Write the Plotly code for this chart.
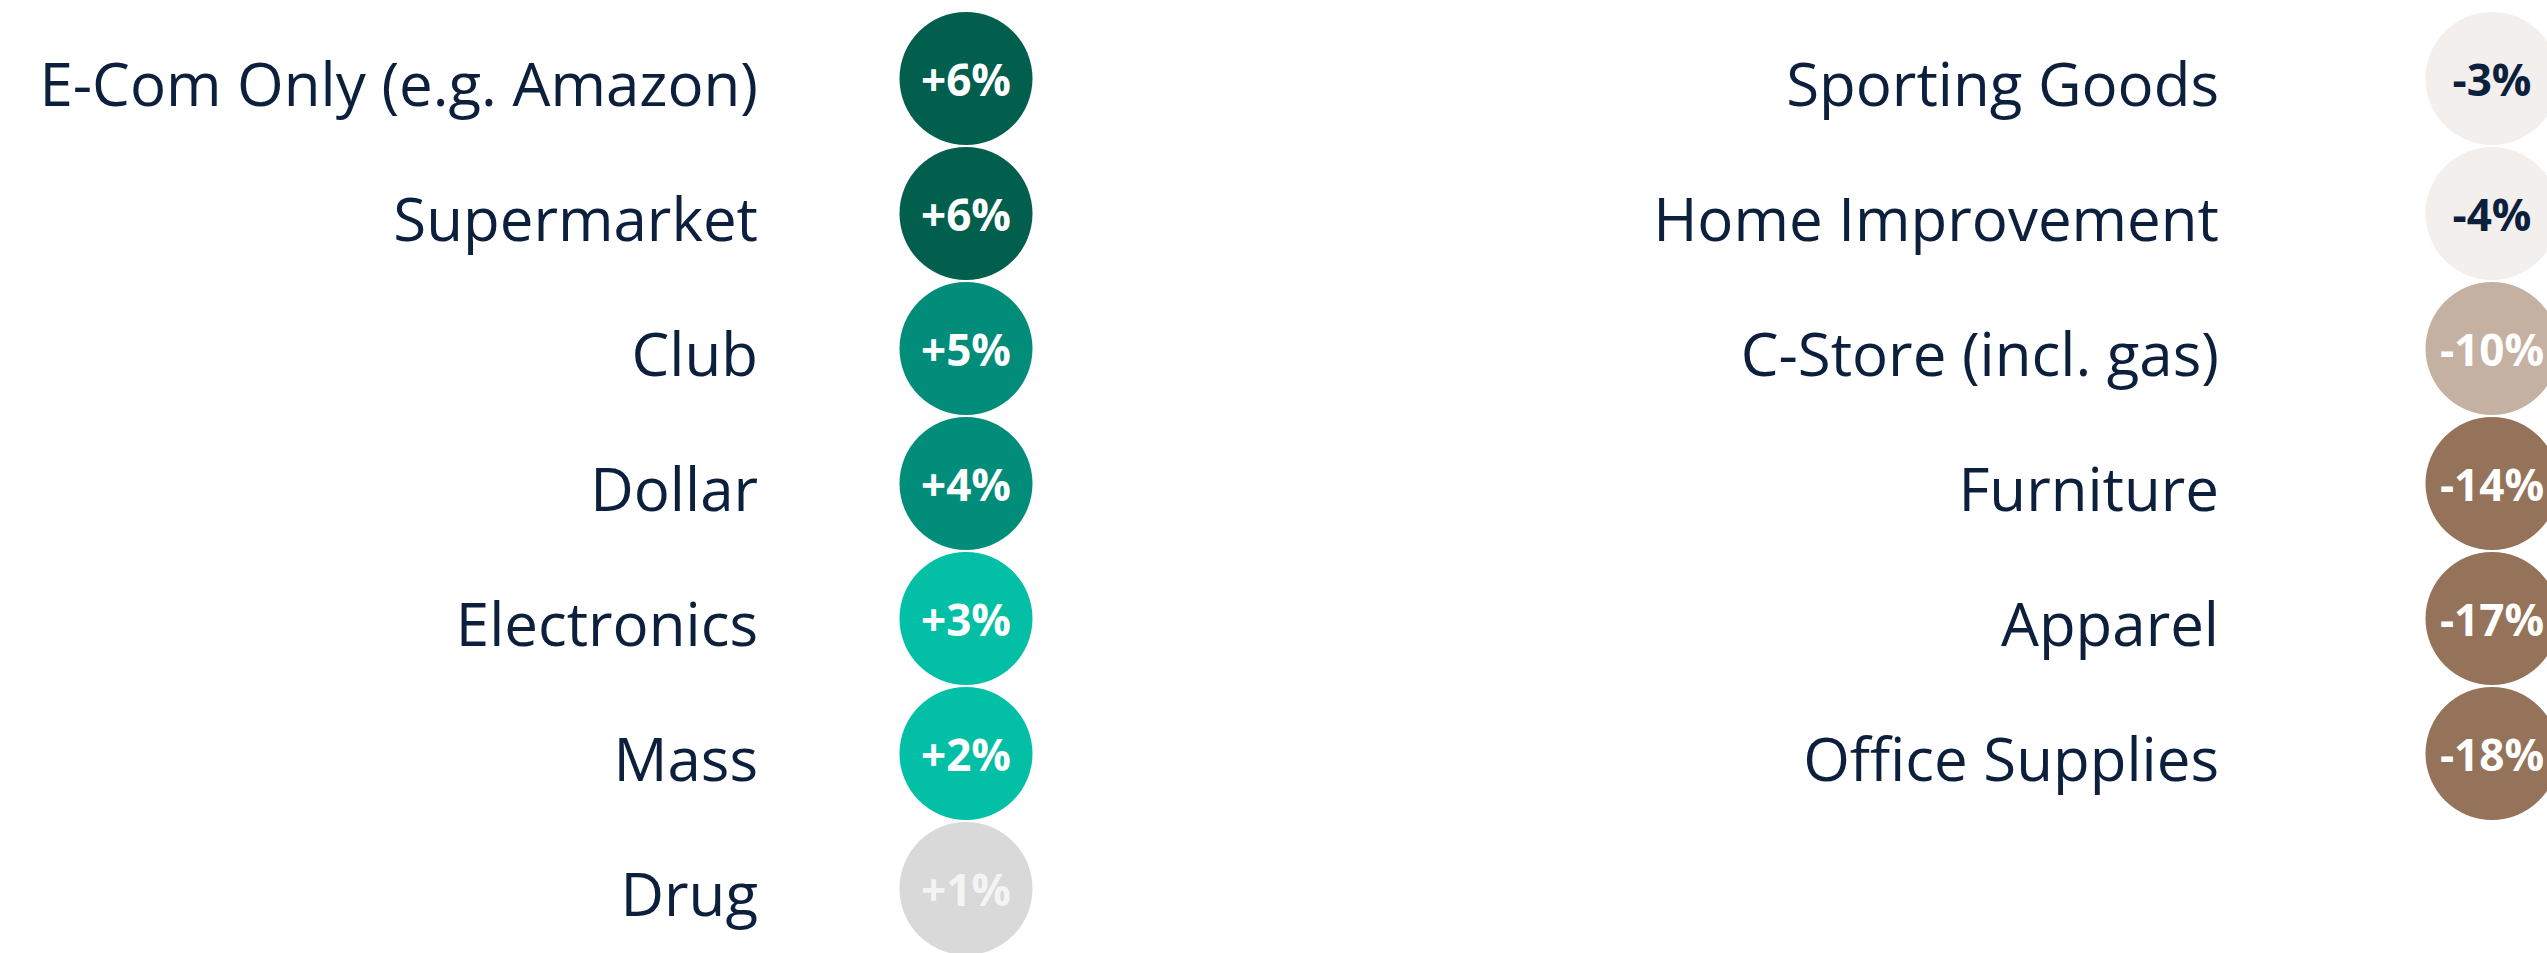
import plotly.graph_objects as go

# Left panel: channels with positive change
left_categories = ["E-Com Only (e.g. Amazon)", "Supermarket", "Club", "Dollar",
                   "Electronics", "Mass", "Drug"]
left_values = [6, 6, 5, 4, 3, 2, 1]
left_colors = ["#025F4E", "#025F4E", "#028D7A", "#028D7A", "#02BFA6", "#02BFA6", "#D9D9D9"]
left_label_colors = ["white"] * 6 + ["#F4F4F4"]

# Right panel: channels with negative change
right_categories = ["Sporting Goods", "Home Improvement", "C-Store (incl. gas)",
                    "Furniture", "Apparel", "Office Supplies"]
right_values = [-3, -4, -10, -14, -17, -18]
right_colors = ["#F2EFEC", "#F2EFEC", "#C5B1A2", "#95735A", "#95735A", "#95735A"]
right_label_colors = ["#0C1F3C", "#0C1F3C", "white", "white", "white", "white"]

W, H = 2547, 953
ROW_TOP = 78.5      # px centre of first row
ROW_STEP = 135.0    # px between rows
DOT = 133           # circle diameter, px
TEXT_COLOR = "#0C1F3C"
FONT = "Open Sans"
NAME_DROP = 12 / ROW_STEP   # nudge names down onto the circle centre line
VALUE_DROP = 6 / ROW_STEP   # nudge values down inside the circles

panels = [
    dict(cats=left_categories, vals=left_values, colors=left_colors,
         lcolors=left_label_colors, text_x=758, dot_x=966),
    dict(cats=right_categories, vals=right_values, colors=right_colors,
         lcolors=right_label_colors, text_x=2219, dot_x=2492),
]


def fmt(v):
    return f"+{v}%" if v > 0 else f"{v}%"


fig = go.Figure()
for p in panels:
    rows = list(range(len(p["cats"])))
    fig.add_trace(go.Scatter(
        x=[p["text_x"]] * len(rows), y=[r + NAME_DROP for r in rows], mode="text",
        text=p["cats"], textposition="middle left",
        textfont=dict(family=FONT, size=60, color=TEXT_COLOR),
        hoverinfo="skip", showlegend=False,
    ))
    fig.add_trace(go.Scatter(
        x=[p["dot_x"]] * len(rows), y=rows, mode="markers",
        marker=dict(size=DOT, color=p["colors"], line=dict(width=0)),
        cliponaxis=False, hoverinfo="skip", showlegend=False,
    ))
    fig.add_trace(go.Scatter(
        x=[p["dot_x"]] * len(rows), y=[r + VALUE_DROP for r in rows], mode="text",
        text=[fmt(v) for v in p["vals"]], textposition="middle center",
        textfont=dict(family=FONT, size=44, color=p["lcolors"], weight="bold"),
        cliponaxis=False, hoverinfo="skip", showlegend=False,
    ))

fig.update_layout(
    width=W, height=H,
    margin=dict(l=0, r=0, t=0, b=0),
    paper_bgcolor="white", plot_bgcolor="white",
    xaxis=dict(range=[0, W], visible=False, fixedrange=True),
    yaxis=dict(range=[(H - ROW_TOP) / ROW_STEP, -ROW_TOP / ROW_STEP],
               visible=False, fixedrange=True),
)

fig.write_html("out.html", config={"displayModeBar": False})
